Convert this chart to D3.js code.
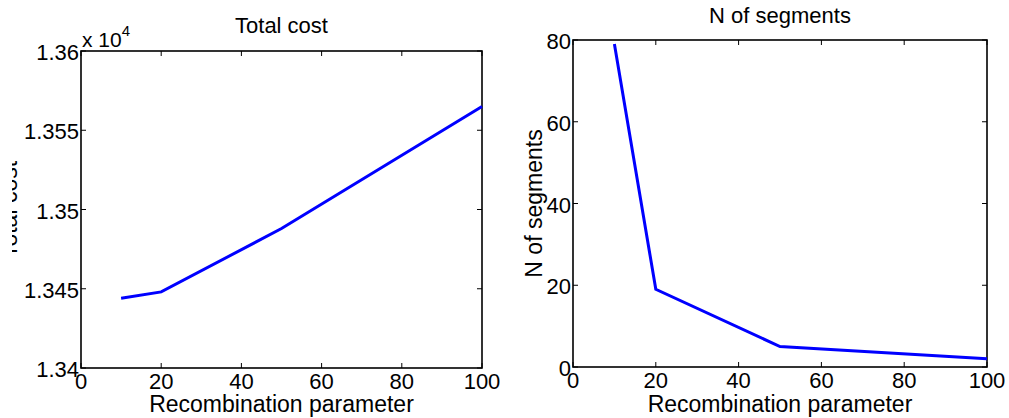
<!DOCTYPE html>
<html lang="en">
<head>
  <meta charset="UTF-8">
  <title>Total cost / N of segments</title>
  <script src="https://d3js.org/d3.v7.min.js"></script>
  <style>
    body { margin: 0; background: #fff; font-family: "Liberation Sans", Arial, sans-serif; }
    svg { display: block; }
    text { fill: #000; }
  </style>
</head>
<body>
  <svg width="1009" height="418"></svg>

  <script>
    // data
    const params = [10, 20, 50, 100];
    const totalCost = [13444, 13448, 13488, 13565];
    const nSegments = [79, 19, 5, 2];

    const xTicks = [0, 20, 40, 60, 80, 100];
    const costTicks = [13400, 13450, 13500, 13550, 13600];
    const costTickLabels = ["1.34", "1.345", "1.35", "1.355", "1.36"];
    const segTicks = [0, 20, 40, 60, 80];

    const svg = d3.select("svg");

    // the left y label is cut at the figure edge in the original
    svg.append("defs").append("clipPath").attr("id", "edgeClip")
      .append("rect").attr("x", 12).attr("y", 0).attr("width", 1000).attr("height", 418);

    function panel(opts) {
      const { left, right, top, bottom } = opts;
      const x = d3.scaleLinear().domain([0, 100]).range([left, right]);
      const y = d3.scaleLinear().domain(opts.yDomain).range([bottom, top]);
      const g = svg.append("g");

      // inward ticks on all four sides
      const tl = 5;
      xTicks.forEach(t => {
        g.append("line").attr("x1", x(t)).attr("x2", x(t)).attr("y1", bottom).attr("y2", bottom - tl)
          .attr("stroke", "#000").attr("stroke-width", 1);
        g.append("line").attr("x1", x(t)).attr("x2", x(t)).attr("y1", top).attr("y2", top + tl)
          .attr("stroke", "#000").attr("stroke-width", 1);
        g.append("text").attr("x", x(t)).attr("y", bottom + 21)
          .attr("text-anchor", "middle").attr("font-size", 22).text(t);
      });
      opts.yTicks.forEach((t, i) => {
        g.append("line").attr("x1", left).attr("x2", left + tl).attr("y1", y(t)).attr("y2", y(t))
          .attr("stroke", "#000").attr("stroke-width", 1);
        g.append("line").attr("x1", right).attr("x2", right - tl).attr("y1", y(t)).attr("y2", y(t))
          .attr("stroke", "#000").attr("stroke-width", 1);
        g.append("text").attr("x", left - 2).attr("y", y(t) + 9)
          .attr("text-anchor", "end").attr("font-size", 22).text(opts.yLabels[i]);
      });

      // box
      g.append("rect").attr("x", left).attr("y", top)
        .attr("width", right - left).attr("height", bottom - top)
        .attr("fill", "none").attr("stroke", "#000").attr("stroke-width", 1.6);

      // the line
      const line = d3.line().x((d, i) => x(params[i])).y(d => y(d));
      g.append("path").datum(opts.values)
        .attr("d", line).attr("fill", "none")
        .attr("stroke", "#0000ff").attr("stroke-width", 3);

      // title and labels
      g.append("text").attr("x", (left + right) / 2).attr("y", opts.titleY)
        .attr("text-anchor", "middle").attr("font-size", 22).text(opts.title);
      g.append("text").attr("x", (left + right) / 2).attr("y", 412)
        .attr("text-anchor", "middle").attr("font-size", 23).text("Recombination parameter");
      const lg = g.append("g");
      if (opts.clipYLabel) lg.attr("clip-path", "url(#edgeClip)");
      lg.append("text")
        .attr("transform", `translate(${opts.yLabelX},${(top + bottom) / 2}) rotate(-90)`)
        .attr("text-anchor", "middle").attr("font-size", 23).text(opts.yLabel);
      return g;
    }

    const left = panel({
      left: 81, right: 482, top: 51, bottom: 368,
      yDomain: [13400, 13600], yTicks: costTicks, yLabels: costTickLabels,
      values: totalCost, title: "Total cost", titleY: 33,
      yLabel: "Total cost", yLabelX: 17, clipYLabel: true
    });
    // exponent marker
    const ex = left.append("text").attr("x", 82).attr("y", 47).attr("font-size", 21);
    ex.append("tspan").text("x 10");
    ex.append("tspan").attr("dy", -11).attr("font-size", 15).text("4");

    panel({
      left: 573, right: 987, top: 40, bottom: 367,
      yDomain: [0, 80], yTicks: segTicks, yLabels: segTicks,
      values: nSegments, title: "N of segments", titleY: 23,
      yLabel: "N of segments", yLabelX: 542
    });
  </script>
</body>
</html>
